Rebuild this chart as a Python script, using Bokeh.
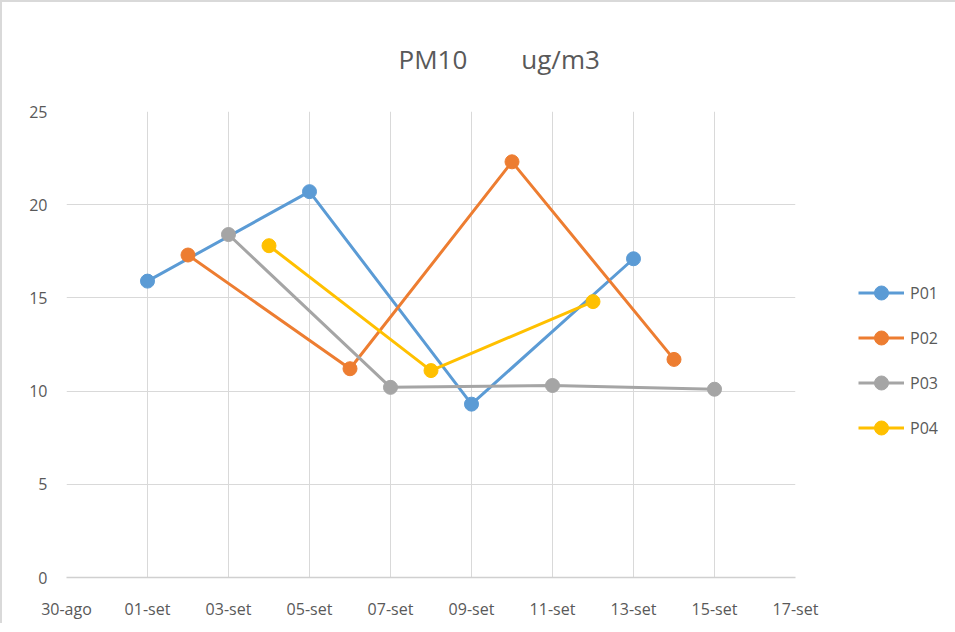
import pandas as pd
from bokeh.plotting import figure
from bokeh.models import FixedTicker, Legend, LegendItem, Range1d
from bokeh.embed import file_html
from bokeh.resources import INLINE

# ---- data ----
series_names = ["P01", "P02", "P03", "P04"]
p01_dates = ["2016-09-01", "2016-09-05", "2016-09-09", "2016-09-13"]
p01_vals = [15.9, 20.7, 9.3, 17.1]
p02_dates = ["2016-09-02", "2016-09-06", "2016-09-10", "2016-09-14"]
p02_vals = [17.3, 11.2, 22.3, 11.7]
p03_dates = ["2016-09-03", "2016-09-07", "2016-09-11", "2016-09-15"]
p03_vals = [18.4, 10.2, 10.3, 10.1]
p04_dates = ["2016-09-04", "2016-09-08", "2016-09-12"]
p04_vals = [17.8, 11.1, 14.8]
tick_dates = ["2016-08-30", "2016-09-01", "2016-09-03", "2016-09-05", "2016-09-07",
              "2016-09-09", "2016-09-11", "2016-09-13", "2016-09-15", "2016-09-17"]
tick_labels = ["30-ago", "01-set", "03-set", "05-set", "07-set",
               "09-set", "11-set", "13-set", "15-set", "17-set"]
y_ticks = [0, 5, 10, 15, 20, 25]
colors = ["#5B9BD5", "#ED7D31", "#A5A5A5", "#FFC000"]
title_text = "PM10\u00a0\u00a0\u00a0\u00a0\u00a0\u00a0\u00a0 ug/m3"

FONT = "Open Sans"
TXT = "#595959"

def ms(d):
    return pd.Timestamp(d).value / 1e6

tick_ms = [ms(d) for d in tick_dates]

p = figure(x_axis_type="datetime", output_backend="svg", toolbar_location=None,
           width=945, height=622,
           min_border_left=64, min_border_top=109, min_border_bottom=46, min_border_right=20,
           x_range=Range1d(tick_ms[0], tick_ms[-1]), y_range=Range1d(0, 25))
p.frame_width = 729
p.frame_height = 466
p.outline_line_color = None
p.background_fill_color = "white"
p.border_fill_color = "white"
p.styles = {"border-left": "2px solid #d9d9d9", "border-top": "2px solid #d9d9d9"}

p.title.text = title_text
p.title.align = "left"
p.title.offset = 332
p.title.text_font = FONT
p.title.text_font_size = "26px"
p.title.text_font_style = "normal"
p.title.text_color = TXT
p.title.standoff = 70

p.xaxis.ticker = FixedTicker(ticks=tick_ms)
p.xaxis.major_label_overrides = {t: lab for t, lab in zip(tick_ms, tick_labels)}
p.yaxis.ticker = FixedTicker(ticks=y_ticks)
for ax in (p.xaxis, p.yaxis):
    ax.major_tick_line_color = None
    ax.minor_tick_line_color = None
    ax.major_label_text_font = FONT
    ax.major_label_text_font_size = "16px"
    ax.major_label_text_color = TXT
p.yaxis.axis_line_color = None
p.xaxis.axis_line_color = "#d0d0d0"
p.xaxis.axis_line_width = 1.5
p.yaxis.major_label_standoff = 13
p.xaxis.major_label_standoff = 14
p.xgrid.ticker = FixedTicker(ticks=tick_ms)
p.ygrid.ticker = FixedTicker(ticks=y_ticks)
p.xgrid.grid_line_color = "#d9d9d9"
p.ygrid.grid_line_color = "#d9d9d9"

items = []
all_dates = [p01_dates, p02_dates, p03_dates, p04_dates]
all_vals = [p01_vals, p02_vals, p03_vals, p04_vals]
for name, dts, vals, c in zip(series_names, all_dates, all_vals, colors):
    x = pd.to_datetime(dts)
    r1 = p.line(x, vals, line_color=c, line_width=3)
    r2 = p.scatter(x, vals, size=14, fill_color=c, line_color=c)
    items.append(LegendItem(label=name, renderers=[r1, r2]))

legend = Legend(items=items, location=(63, 132), border_line_color=None,
                background_fill_alpha=0, label_text_font=FONT, label_text_font_size="16px",
                label_text_color=TXT, glyph_width=46, glyph_height=35, label_height=35,
                spacing=10, label_standoff=6, padding=0, margin=0)
p.add_layout(legend, "right")

open("out.html", "w").write(file_html(p, INLINE))
